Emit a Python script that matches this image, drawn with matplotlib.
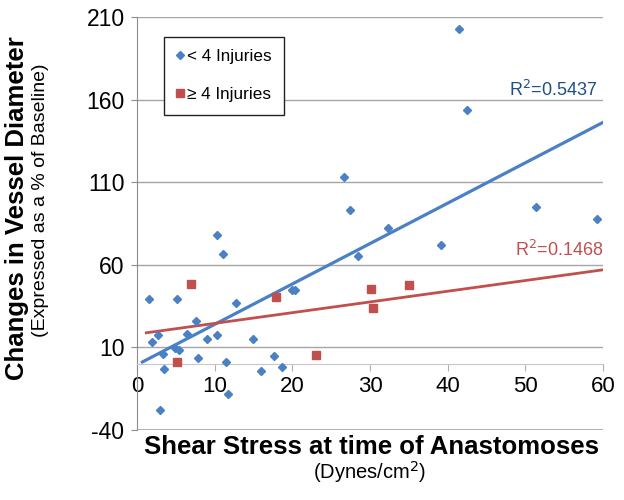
import numpy as np
import matplotlib
matplotlib.use("Agg")
import matplotlib.pyplot as plt

plt.rcParams['font.family'] = ['Liberation Sans', 'DejaVu Sans']
plt.rcParams['axes.unicode_minus'] = False

# < 4 injuries
blue_x = [41.5, 42.5, 51.35, 59.2, 39.2, 32.3, 26.7, 27.4, 28.4, 20.0, 20.4,
          10.3, 11.1, 1.54, 5.15, 12.74, 7.55, 1.89, 2.75, 6.4, 9.05, 10.25,
          4.89, 5.4, 3.39, 7.9, 11.4, 3.5, 11.7, 2.96, 14.9, 17.6, 15.96, 18.7]
blue_y = [202.5, 154, 94.7, 87.5, 72.2, 82.4, 113, 93.3, 65.5, 44.9, 44.9,
          78, 66.3, 39.5, 39.5, 36.8, 25.9, 13.2, 17.7, 17.9, 14.8, 17.7,
          9.8, 8.6, 6.2, 3.3, 0.9, -2.9, -18, -27.7, 14.8, 4.7, -4.5, -2.1]
# >= 4 injuries
red_x = [6.95, 5.2, 17.85, 23.0, 30.1, 30.4, 35.0]
red_y = [48.6, 1.0, 40.5, 5.6, 45.3, 34, 47.7]

blue_r2 = "R$^2$=0.5437"
red_r2 = "R$^2$=0.1468"
xticks = [0, 10, 20, 30, 40, 50, 60]
yticks = [-40, 10, 60, 110, 160, 210]

BLUE = '#4A80C4'
RED = '#C0504D'
GRID = '#A6A6A6'

fig = plt.figure(figsize=(6.24, 5.0), dpi=100)
ax = fig.add_axes([137/624, 1 - 430/500, 466/624, 413/500])

ax.set_xlim(0, 60)
ax.set_ylim(-40, 210)
ax.set_yticks(yticks)
ax.set_xticks(xticks)
ax.yaxis.grid(True, color=GRID, lw=1)
ax.set_axisbelow(True)
ax.axhline(-40, color=GRID, lw=1.2, zorder=1)

for s in ['top', 'right']:
    ax.spines[s].set_visible(False)
ax.spines['left'].set_color('#8C8C8C')
ax.spines['bottom'].set_position(('data', 0))
ax.spines['bottom'].set_color('#C8C8C8')
ax.tick_params(axis='y', length=4, color='#8C8C8C', labelsize=16.5, pad=5)
ax.tick_params(axis='x', length=5, color='#B0B0B0', labelsize=16, pad=4)

# trend lines
bfit = np.polyfit(blue_x, blue_y, 1)
rfit = np.polyfit(red_x, red_y, 1)
bx = np.array([0.7, 60])
rx = np.array([1.2, 60])
ax.plot(bx, np.polyval(bfit, bx), color=BLUE, lw=2.3, zorder=3)
ax.plot(rx, np.polyval(rfit, rx), color=RED, lw=2.0, zorder=3)

ax.plot(blue_x, blue_y, 'D', color=BLUE, ms=4.2, ls='none', zorder=4,
        label='< 4 Injuries')
ax.plot(red_x, red_y, 's', color=RED, ms=5.8, ls='none', zorder=4,
        label='≥ 4 Injuries')

leg = ax.legend(loc='upper left', bbox_to_anchor=(164/624, 1 - 37/500),
                bbox_transform=fig.transFigure, fontsize=12.3,
                frameon=True, fancybox=False, framealpha=1, edgecolor='#222222',
                handlelength=0.4, handletextpad=0.25, labelspacing=1.35,
                borderpad=0.72, borderaxespad=0, markerscale=0.9)
leg.get_frame().set_linewidth(1.0)

ax.text(59.2, 166, blue_r2, color='#1F4E8A', fontsize=13, ha='right', va='center')
ax.text(60, 69, red_r2, color=RED, fontsize=13, ha='right', va='center')

fig.text(17/624, 1 - 208/500, 'Changes in Vessel Diameter', rotation=90,
         fontsize=18.5, fontweight='bold', ha='center', va='center')
fig.text(41/624, 1 - 200/500, '(Expressed as a % of Baseline)', rotation=90,
         fontsize=14, ha='center', va='center')
fig.text(371/624, 1 - 447/500, 'Shear Stress at time of Anastomoses',
         fontsize=18.5, fontweight='bold', ha='center', va='center')
fig.text(370/624, 1 - 472/500, '(Dynes/cm$^2$)', fontsize=14.5,
         ha='center', va='center')

fig.savefig('out.png', dpi=100)
